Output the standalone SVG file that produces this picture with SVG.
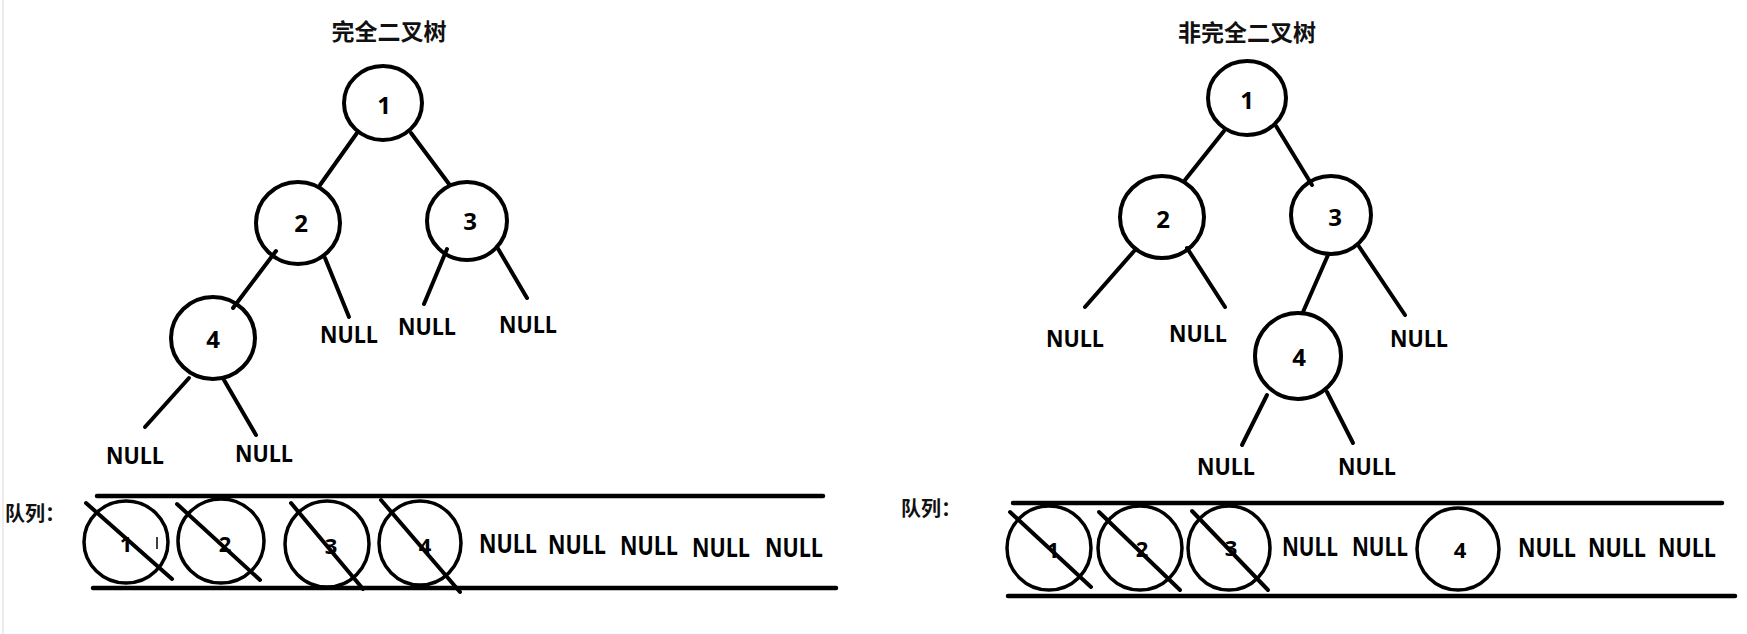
<svg xmlns="http://www.w3.org/2000/svg" width="1747" height="634" viewBox="0 0 1747 634">
<style>
.bg{fill:#ffffff}
.n{fill:none;stroke:#000;stroke-width:4}
.e{stroke:#000;stroke-width:4;stroke-linecap:round;fill:none}
.q{stroke:#000;stroke-width:4.5;stroke-linecap:round;fill:none}
.qc{fill:none;stroke:#000;stroke-width:3.5}
.t{font-family:"Noto Sans CJK SC","Noto Sans",sans-serif;font-weight:bold;font-size:23px;fill:#111;text-anchor:middle}
.lbl{font-family:"Open Sans","Noto Sans",sans-serif;font-weight:bold;font-size:24px;fill:#000;text-anchor:middle}
.nul{font-family:"Open Sans","Noto Sans",sans-serif;font-weight:bold;font-size:24px;fill:#000;text-anchor:middle}
.qn{font-family:"Open Sans","Noto Sans",sans-serif;font-weight:bold;font-size:27px;fill:#000;text-anchor:middle}
.qd{font-family:"Open Sans","Noto Sans",sans-serif;font-weight:bold;font-size:22px;fill:#000;text-anchor:middle}
.ql{font-family:"Noto Sans CJK SC","Noto Sans",sans-serif;font-weight:bold;font-size:20px;fill:#111}
</style>
<rect class="bg" x="0" y="0" width="1747" height="634"/>
<line x1="3" y1="0" x2="3" y2="634" stroke="#e6e6e6" stroke-width="1.5"/>

<!-- Titles -->
<text id="title-left" class="t" x="389" y="40">完全二叉树</text>
<text id="title-right" class="t" x="1247" y="41">非完全二叉树</text>

<!-- Connectors -->
<g id="connectors">
  <!-- left tree -->
  <line class="e" x1="357" y1="133" x2="320" y2="185"/>
  <line class="e" x1="411" y1="133" x2="449" y2="184"/>
  <line class="e" x1="276" y1="251" x2="233" y2="308"/>
  <line class="e" x1="325" y1="258" x2="349" y2="317"/>
  <line class="e" x1="447" y1="249" x2="424" y2="304"/>
  <line class="e" x1="497" y1="247" x2="527" y2="298"/>
  <line class="e" x1="189" y1="378" x2="145" y2="427"/>
  <line class="e" x1="224" y1="380" x2="256" y2="435"/>
  <!-- right tree -->
  <line class="e" x1="1224" y1="131" x2="1185" y2="180"/>
  <line class="e" x1="1276" y1="126" x2="1312" y2="185"/>
  <line class="e" x1="1135" y1="250" x2="1085" y2="307"/>
  <line class="e" x1="1187" y1="248" x2="1225" y2="307"/>
  <line class="e" x1="1328" y1="255" x2="1303" y2="312"/>
  <line class="e" x1="1358" y1="245" x2="1405" y2="315"/>
  <line class="e" x1="1267" y1="395" x2="1242" y2="445"/>
  <line class="e" x1="1327" y1="392" x2="1353" y2="443"/>
</g>

<!-- Left tree nodes -->
<g id="L1"><ellipse class="n" cx="383" cy="103" rx="39" ry="37"/><text class="lbl" x="384" y="114">1</text></g>
<g id="L2"><ellipse class="n" cx="298" cy="223" rx="42" ry="41"/><text class="lbl" x="301" y="232">2</text></g>
<g id="L3"><ellipse class="n" cx="467" cy="221" rx="40" ry="39"/><text class="lbl" x="470" y="230">3</text></g>
<g id="L4"><ellipse class="n" cx="213" cy="338" rx="42" ry="41"/><text class="lbl" x="213" y="348">4</text></g>
<g id="L2R"><text class="nul" x="349" y="343" textLength="58" lengthAdjust="spacingAndGlyphs">NULL</text></g>
<g id="L3L"><text class="nul" x="427" y="335" textLength="58" lengthAdjust="spacingAndGlyphs">NULL</text></g>
<g id="L3R"><text class="nul" x="528" y="333" textLength="58" lengthAdjust="spacingAndGlyphs">NULL</text></g>
<g id="L4L"><text class="nul" x="135" y="464" textLength="58" lengthAdjust="spacingAndGlyphs">NULL</text></g>
<g id="L4R"><text class="nul" x="264" y="462" textLength="58" lengthAdjust="spacingAndGlyphs">NULL</text></g>

<!-- Right tree nodes -->
<g id="R1"><ellipse class="n" cx="1247" cy="98" rx="39" ry="37"/><text class="lbl" x="1247" y="109">1</text></g>
<g id="R2"><ellipse class="n" cx="1162" cy="217" rx="42" ry="41"/><text class="lbl" x="1163" y="228">2</text></g>
<g id="R3"><ellipse class="n" cx="1331" cy="215" rx="40" ry="39"/><text class="lbl" x="1335" y="226">3</text></g>
<g id="R4"><ellipse class="n" cx="1298" cy="356" rx="43" ry="43"/><text class="lbl" x="1299" y="366">4</text></g>
<g id="R2L"><text class="nul" x="1075" y="347" textLength="58" lengthAdjust="spacingAndGlyphs">NULL</text></g>
<g id="R2R"><text class="nul" x="1198" y="342" textLength="58" lengthAdjust="spacingAndGlyphs">NULL</text></g>
<g id="R3R"><text class="nul" x="1419" y="347" textLength="58" lengthAdjust="spacingAndGlyphs">NULL</text></g>
<g id="R4L"><text class="nul" x="1226" y="475" textLength="58" lengthAdjust="spacingAndGlyphs">NULL</text></g>
<g id="R4R"><text class="nul" x="1367" y="475" textLength="58" lengthAdjust="spacingAndGlyphs">NULL</text></g>

<!-- Left queue -->
<g id="queue-left">
  <text class="ql" x="5" y="521">队列：</text>
  <line class="q" x1="97" y1="496" x2="823" y2="496"/>
  <line class="q" x1="93" y1="588" x2="836" y2="588"/>
  <ellipse class="qc" cx="126" cy="542" rx="42" ry="41"/>
  <text class="qd" x="126" y="552">1</text>
  <line x1="157" y1="537" x2="157" y2="549" stroke="#000" stroke-width="1.5"/>
  <line class="e" x1="86" y1="503" x2="172" y2="579"/>
  <ellipse class="qc" cx="221" cy="541" rx="43" ry="42"/>
  <text class="qd" x="225" y="552">2</text>
  <line class="e" x1="177" y1="504" x2="260" y2="580"/>
  <ellipse class="qc" cx="327" cy="544" rx="42" ry="43"/>
  <text class="qd" x="331" y="554">3</text>
  <line class="e" x1="291" y1="503" x2="363" y2="589"/>
  <ellipse class="qc" cx="420" cy="543" rx="41" ry="42"/>
  <text class="qd" x="425" y="554">4</text>
  <line class="e" x1="381" y1="500" x2="460" y2="592"/>
  <text class="qn" x="508" y="553" textLength="58" lengthAdjust="spacingAndGlyphs">NULL</text>
  <text class="qn" x="577" y="554" textLength="58" lengthAdjust="spacingAndGlyphs">NULL</text>
  <text class="qn" x="649" y="555" textLength="58" lengthAdjust="spacingAndGlyphs">NULL</text>
  <text class="qn" x="721" y="557" textLength="58" lengthAdjust="spacingAndGlyphs">NULL</text>
  <text class="qn" x="794" y="557" textLength="58" lengthAdjust="spacingAndGlyphs">NULL</text>
</g>

<!-- Right queue -->
<g id="queue-right">
  <text class="ql" x="901" y="516">队列：</text>
  <line class="q" x1="1013" y1="503" x2="1722" y2="503"/>
  <line class="q" x1="1008" y1="596" x2="1735" y2="596"/>
  <ellipse class="qc" cx="1049" cy="548" rx="42" ry="42"/>
  <text class="qd" x="1053" y="558">1</text>
  <line class="e" x1="1010" y1="512" x2="1091" y2="587"/>
  <ellipse class="qc" cx="1140" cy="548" rx="42" ry="42"/>
  <text class="qd" x="1142" y="557">2</text>
  <line class="e" x1="1099" y1="512" x2="1180" y2="590"/>
  <ellipse class="qc" cx="1229" cy="548" rx="41" ry="42"/>
  <text class="qd" x="1231" y="556">3</text>
  <line class="e" x1="1192" y1="511" x2="1268" y2="590"/>
  <text class="qn" x="1310" y="556" textLength="56" lengthAdjust="spacingAndGlyphs">NULL</text>
  <text class="qn" x="1380" y="556" textLength="56" lengthAdjust="spacingAndGlyphs">NULL</text>
  <ellipse class="qc" cx="1458" cy="549" rx="41" ry="41"/>
  <text class="qd" x="1460" y="558">4</text>
  <text class="qn" x="1547" y="557" textLength="58" lengthAdjust="spacingAndGlyphs">NULL</text>
  <text class="qn" x="1617" y="557" textLength="58" lengthAdjust="spacingAndGlyphs">NULL</text>
  <text class="qn" x="1687" y="557" textLength="58" lengthAdjust="spacingAndGlyphs">NULL</text>
</g>
</svg>
